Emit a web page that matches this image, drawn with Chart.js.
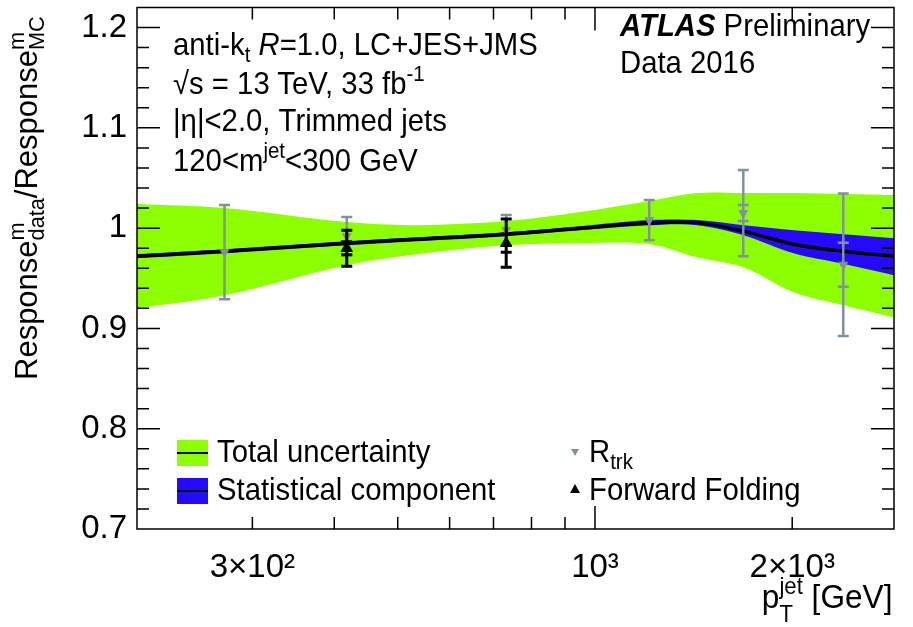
<!DOCTYPE html>
<html>
<head>
<meta charset="utf-8">
<script src="https://cdn.jsdelivr.net/npm/chart.js@4.4.0/dist/chart.umd.min.js"></script>
<style>
  body { margin: 0; background: #fff; }
  #wrap { position: relative; width: 913px; height: 627px; font-family: 'Liberation Sans', Arial, sans-serif; color: #000; }
  #wrap canvas { position: absolute; left: 0; top: 0; }
  .t { position: absolute; font-size: 31.5px; line-height: 31.5px; white-space: nowrap; transform: scaleX(0.93); transform-origin: left top; }
  .sub { font-size: 0.7em; position: relative; top: 0.3em; }
  .sup { font-size: 0.7em; position: relative; top: -0.6em; }
  .stk { position: relative; display: inline-block; }
  .stk .lo { font-size: 0.7em; position: relative; top: 0.3em; }
  .stk .hi { font-size: 0.7em; position: absolute; left: 0; top: -0.45em; }
  .stk .hi2 { font-size: 0.7em; position: relative; top: -0.6em; }
  .stk .lo2 { font-size: 0.7em; position: absolute; left: 0; top: 0.75em; }
  .box { position: absolute; width: 31px; height: 26px; }
  .box::after { content: ''; position: absolute; left: 0; right: 0; top: 12px; height: 2px; background: #000; }
  .tri { position: absolute; width: 0; height: 0; }
</style>
</head>
<body>
<div id="wrap">
  <canvas id="c" width="913" height="627"></canvas>

  <div class="t" style="left:173px; top:29px;">anti-k<span class="sub">t</span> <i>R</i>=1.0, LC+JES+JMS</div>
  <div class="t" style="left:173px; top:68px;">√s = 13 TeV, 33 fb<span class="sup">-1</span></div>
  <div class="t" style="left:173px; top:105px;">|η|&lt;2.0, Trimmed jets</div>
  <div class="t" style="left:173px; top:145px;">120&lt;m<span class="sup">jet</span>&lt;300 GeV</div>

  <div class="t" style="left:620px; top:10px;"><b><i>ATLAS</i></b> Preliminary</div>
  <div class="t" style="left:620px; top:47px;">Data 2016</div>

  <div class="box" style="left:177px; top:440px; background:rgb(140,255,0);"></div>
  <div class="box" style="left:177px; top:478px; background:rgb(38,8,250);"></div>
  <div class="t" style="left:217px; top:436px;">Total uncertainty</div>
  <div class="t" style="left:217px; top:474px;">Statistical component</div>
  <div class="tri" style="left:571px; top:449px; border-left:4px solid transparent; border-right:4px solid transparent; border-top:7px solid rgb(128,146,156);"></div>
  <div class="t" style="left:589px; top:436px;">R<span class="sub">trk</span></div>
  <div class="tri" style="left:570px; top:484px; border-left:5px solid transparent; border-right:5px solid transparent; border-bottom:9px solid #000;"></div>
  <div class="t" style="left:589px; top:474px;">Forward Folding</div>

  <div class="t" style="left:auto; right:21px; top:579px; font-size:34px; line-height:34px; transform-origin:right top;">p<span class="stk"><span class="hi2">jet</span><span class="lo2">T</span></span> [GeV]</div>

  <div class="t" style="left:11px; top:380px; font-size:31px; line-height:31px; transform:rotate(-90deg); transform-origin:left top;">Response<span class="stk"><span class="lo">data</span><span class="hi">m</span></span>/Response<span class="stk"><span class="lo">MC</span><span class="hi">m</span></span></div>
</div>

<script>
// calibration curve, sampled in pT [GeV]
const ptGrid = [200, 272, 418, 534, 732, 949, 1211, 1431, 1685, 2010, 2395, 2860];
const nominal = [0.972, 0.977, 0.985, 0.989, 0.994, 1.000, 1.005, 1.0055, 0.997, 0.984, 0.977, 0.972];
const totalUp = [1.024, 1.020, 1.006, 1.003, 1.007, 1.016, 1.027, 1.035, 1.035, 1.035, 1.034, 1.033];
const totalDown = [0.920, 0.933, 0.963, 0.974, 0.983, 0.985, 0.984, 0.971, 0.961, 0.936, 0.923, 0.911];
const statUp = [0.974, 0.979, 0.987, 0.991, 0.996, 1.002, 1.008, 1.008, 1.003, 0.998, 0.994, 0.990];
const statDown = [0.970, 0.975, 0.983, 0.987, 0.992, 0.998, 1.003, 1.003, 0.993, 0.975, 0.9645, 0.953];

// R_trk in-situ measurements
const rtrkPt = [272, 418, 732, 1210, 1684, 2393];
const rtrkVal = [0.976, 0.992, 0.998, 1.008, 1.015, 0.9635];
const rtrkTot = [0.047, 0.019, 0.015, 0.020, 0.043, 0.071];
const rtrkStat = [null, null, null, null, 0.008, 0.022];

// forward folding measurements
const ffPt = [418, 732];
const ffVal = [0.980, 0.985];
const ffTot = [0.018, 0.024];
const ffStat = [0.0065, 0.009];

const xTickValues = [300, 1000, 2000];
const xTickLabels = ['3×10²', '10³', '2×10³'];
const yTickValues = [0.7, 0.8, 0.9, 1.0, 1.1, 1.2];
const yTickLabels = ['0.7', '0.8', '0.9', '1', '1.1', '1.2'];

const green = 'rgb(140,255,0)';
const blue = 'rgb(38,8,250)';
const grey = 'rgb(128,146,156)';

const xy = (xs, ys) => xs.map((x, i) => ({ x: x, y: ys[i] }));

// vertical error bars with caps for total and (inner) stat
const errorBars = {
  id: 'errorBars',
  beforeDatasetDraw(chart, args) {
    const ds = chart.data.datasets[args.index];
    if (!ds.errTot) return;
    const ctx = chart.ctx, sx = chart.scales.x, sy = chart.scales.y;
    ctx.save();
    ctx.strokeStyle = ds.barColor;
    ctx.lineWidth = ds.barWidth;
    ds.data.forEach((p, i) => {
      const px = sx.getPixelForValue(p.x);
      const cap = v => {
        const py = sy.getPixelForValue(v);
        ctx.moveTo(px - 5.5, py);
        ctx.lineTo(px + 5.5, py);
      };
      const tot = ds.errTot[i], stat = ds.errStat[i];
      ctx.beginPath();
      ctx.moveTo(px, sy.getPixelForValue(p.y + tot));
      ctx.lineTo(px, sy.getPixelForValue(p.y - tot));
      cap(p.y + tot);
      cap(p.y - tot);
      if (stat) { cap(p.y + stat); cap(p.y - stat); }
      ctx.stroke();
    });
    ctx.restore();
  }
};

// frame with inward ticks on all four sides
const frame = {
  id: 'frame',
  afterDraw(chart) {
    const ctx = chart.ctx, a = chart.chartArea, sx = chart.scales.x, sy = chart.scales.y;
    ctx.save();
    ctx.strokeStyle = '#000';
    ctx.lineWidth = 1.5;
    ctx.beginPath();
    for (let i = 1; i < 26; i++) {
      const py = sy.getPixelForValue(0.7 + i * 0.02);
      const len = i % 5 === 0 ? 23 : 12;
      ctx.moveTo(a.left, py); ctx.lineTo(a.left + len, py);
      ctx.moveTo(a.right, py); ctx.lineTo(a.right - len, py);
    }
    [300, 400, 500, 600, 700, 800, 900, 1000, 2000].forEach(v => {
      const px = sx.getPixelForValue(v);
      const len = v === 1000 ? 23 : 12;
      ctx.moveTo(px, a.bottom); ctx.lineTo(px, a.bottom - len);
      ctx.moveTo(px, a.top); ctx.lineTo(px, a.top + len);
    });
    ctx.stroke();
    ctx.strokeRect(a.left, a.top, a.width, a.height);
    ctx.restore();
  }
};

Chart.defaults.font.family = "'Liberation Sans', Arial, sans-serif";
Chart.defaults.color = '#000';

const band = { pointRadius: 0, borderWidth: 0, tension: 0.35 };

new Chart(document.getElementById('c'), {
  type: 'line',
  data: {
    datasets: [
      { ...band, data: xy(ptGrid, totalUp), backgroundColor: green, fill: '+1', order: 6 },
      { ...band, data: xy(ptGrid, totalDown), fill: false, order: 5 },
      { ...band, data: xy(ptGrid, statUp), backgroundColor: blue, fill: '+1', order: 4 },
      { ...band, data: xy(ptGrid, statDown), fill: false, order: 3 },
      { data: xy(ptGrid, nominal), borderColor: '#000', borderWidth: 3.5, pointRadius: 0,
        tension: 0.35, fill: false, order: 2 },
      { data: xy(rtrkPt, rtrkVal), showLine: false, pointStyle: 'triangle', rotation: 180,
        pointRadius: 5, pointBackgroundColor: grey, pointBorderColor: grey, pointBorderWidth: 1,
        errTot: rtrkTot, errStat: rtrkStat, barColor: grey, barWidth: 2.5, order: 1 },
      { data: xy(ffPt, ffVal), showLine: false, pointStyle: 'triangle',
        pointRadius: 6.5, pointBackgroundColor: '#000', pointBorderColor: '#000', pointBorderWidth: 1,
        errTot: ffTot, errStat: ffStat, barColor: '#000', barWidth: 3, order: 0 }
    ]
  },
  options: {
    responsive: false,
    animation: false,
    events: [],
    devicePixelRatio: 1,
    layout: { padding: { top: 7, right: 19, left: 0, bottom: 0 } },
    plugins: { legend: { display: false }, tooltip: { enabled: false } },
    scales: {
      x: {
        type: 'logarithmic',
        min: 200,
        max: 2860,
        grid: { display: false, drawTicks: false },
        border: { display: false },
        afterBuildTicks: s => { s.ticks = xTickValues.map(v => ({ value: v })); },
        ticks: {
          callback: (v, i) => xTickLabels[i],
          autoSkip: false, maxRotation: 0, padding: 19,
          font: { size: 33 }
        },
        afterFit: s => { s.height = 98; s.paddingLeft = 0; s.paddingRight = 0; }
      },
      y: {
        min: 0.7,
        max: 1.22,
        grid: { display: false, drawTicks: false },
        border: { display: false },
        afterBuildTicks: s => { s.ticks = yTickValues.map(v => ({ value: v })); },
        ticks: {
          callback: (v, i) => yTickLabels[i],
          padding: 10,
          font: { size: 33 }
        },
        afterFit: s => { s.width = 137; s.paddingTop = 0; s.paddingBottom = 0; }
      }
    }
  },
  plugins: [errorBars, frame]
});
</script>
</body>
</html>
